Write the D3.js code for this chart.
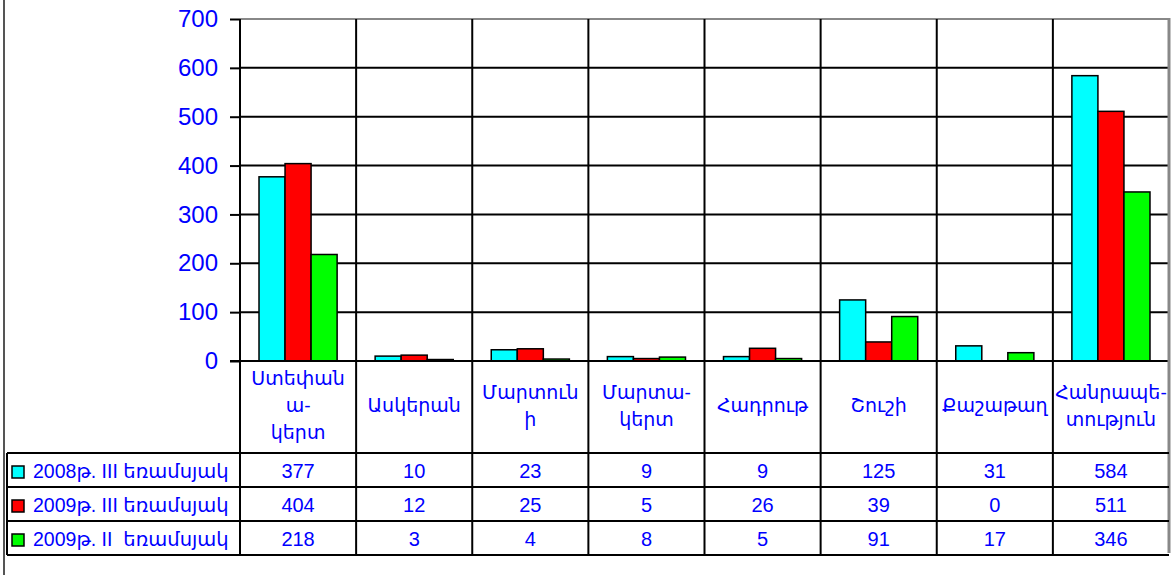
<!DOCTYPE html>
<html>
<head>
<meta charset="utf-8">
<script src="https://cdn.jsdelivr.net/npm/d3@7"></script>
<style>
  html, body { margin: 0; padding: 0; background: #fff; }
  svg { display: block; }
  text { font-family: "Liberation Sans", Arial, "DejaVu Sans", sans-serif; fill: #0000ff; }
</style>
</head>
<body>
<svg id="chart" width="1173" height="575"></svg>
<script>
// ---- data ----
const categories = ["Ստեփանակերտ", "Ասկերան", "Մարտունի", "Մարտակերտ", "Հադրութ", "Շուշի", "Քաշաթաղ", "Հանրապետություն"];
const categoryLabelLines = [
  ["Ստեփան", "ա-", "կերտ"],
  ["Ասկերան"],
  ["Մարտուն", "ի"],
  ["Մարտա-", "կերտ"],
  ["Հադրութ"],
  ["Շուշի"],
  ["Քաշաթաղ"],
  ["Հանրապե-", "տություն"]
];
const seriesNames = ["2008թ. III եռամսյակ", "2009թ. III եռամսյակ", "2009թ. II  եռամսյակ"];
const seriesColors = ["#00ffff", "#ff0000", "#00ff00"];
const values2008Q3 = [377, 10, 23, 9, 9, 125, 31, 584];
const values2009Q3 = [404, 12, 25, 5, 26, 39, 0, 511];
const values2009Q2 = [218, 3, 4, 8, 5, 91, 17, 346];
const yTicks = [0, 100, 200, 300, 400, 500, 600, 700];

const seriesValues = [values2008Q3, values2009Q3, values2009Q2];

// ---- layout ----
const svg = d3.select("#chart");
const plotL = 240, plotR = 1169, plotT = 19, plotB = 361;
const labelB = 453;
const rowH = 34;
const tableL = 7;
const tableB = labelB + rowH * 3;

const x = d3.scaleBand().domain(categories).range([plotL, plotR]).padding(0);
const xs = d3.scaleBand().domain(d3.range(seriesNames.length)).range([0, x.bandwidth()]).paddingInner(0).paddingOuter(0.73);
const y = d3.scaleLinear().domain([0, 700]).range([plotB, plotT]);

// outer frame line at left
svg.append("line").attr("x1", 4).attr("x2", 4).attr("y1", 0).attr("y2", 575)
  .attr("stroke", "#555").attr("stroke-width", 2);

// horizontal gridlines
svg.append("g").selectAll("line").data(yTicks.filter(d => d > 0 && d < 700)).join("line")
  .attr("x1", plotL).attr("x2", plotR)
  .attr("y1", d => y(d)).attr("y2", d => y(d))
  .attr("stroke", "#000").attr("stroke-width", 2);

// top border (gray)
svg.append("line").attr("x1", plotL).attr("x2", plotR).attr("y1", y(700)).attr("y2", y(700))
  .attr("stroke", "#888").attr("stroke-width", 2);

// bars
const groups = svg.append("g").selectAll("g").data(categories).join("g")
  .attr("transform", d => `translate(${x(d)},0)`);
groups.selectAll("rect").data((d, i) => seriesValues.map((s, k) => ({ k, v: s[i] }))).join("rect")
  .attr("x", d => xs(d.k))
  .attr("width", xs.bandwidth())
  .attr("y", d => y(d.v))
  .attr("height", d => y(0) - y(d.v))
  .attr("fill", d => seriesColors[d.k])
  .attr("stroke", "#000").attr("stroke-width", 1.5)
  .attr("display", d => d.v === 0 ? "none" : null);

// vertical category lines (through plot, labels and table)
const bounds = categories.map(c => x(c)).slice(1);
svg.append("g").selectAll("line").data(bounds).join("line")
  .attr("x1", d => d).attr("x2", d => d)
  .attr("y1", plotT).attr("y2", tableB)
  .attr("stroke", "#000").attr("stroke-width", 2);

// left axis line
svg.append("line").attr("x1", plotL).attr("x2", plotL).attr("y1", plotT).attr("y2", tableB)
  .attr("stroke", "#000").attr("stroke-width", 2);

// zero line
svg.append("line").attr("x1", plotL - 10).attr("x2", plotR).attr("y1", y(0)).attr("y2", y(0))
  .attr("stroke", "#000").attr("stroke-width", 2);

// right border (gray)
svg.append("line").attr("x1", plotR).attr("x2", plotR).attr("y1", plotT - 1).attr("y2", tableB - 2)
  .attr("stroke", "#888").attr("stroke-width", 3);

// y axis
const yAxis = d3.axisLeft(y).tickValues(yTicks).tickSize(10).tickPadding(12).tickFormat(d3.format("d"));
const ya = svg.append("g").attr("transform", `translate(${plotL},0)`).call(yAxis);
ya.select(".domain").remove();
ya.selectAll(".tick line").attr("stroke", "#000").attr("stroke-width", 2);
ya.selectAll(".tick text").attr("font-size", 24).attr("fill", "#0000ff")
  .attr("font-family", "'Liberation Sans', Arial, sans-serif");

// category labels
const lineH = 27, midBase = 412;
categoryLabelLines.forEach((lines, i) => {
  const cx = x(categories[i]) + x.bandwidth() / 2;
  const first = midBase - (lines.length - 1) * lineH / 2;
  const t = svg.append("text").attr("text-anchor", "middle").attr("font-size", 19);
  lines.forEach((ln, j) => {
    t.append("tspan").attr("x", cx).attr("y", first + j * lineH).text(ln);
  });
});

// table horizontal lines
svg.append("g").selectAll("line").data(d3.range(4)).join("line")
  .attr("x1", tableL).attr("x2", plotR)
  .attr("y1", d => labelB + d * rowH).attr("y2", d => labelB + d * rowH)
  .attr("stroke", "#000").attr("stroke-width", 2);
// table left border
svg.append("line").attr("x1", tableL).attr("x2", tableL).attr("y1", labelB).attr("y2", tableB)
  .attr("stroke", "#000").attr("stroke-width", 2);

// legend rows + values
seriesNames.forEach((name, k) => {
  const cy = labelB + k * rowH + rowH / 2 + 1;
  svg.append("rect").attr("x", 12).attr("y", cy - 5).attr("width", 12).attr("height", 12)
    .attr("fill", seriesColors[k]).attr("stroke", "#000").attr("stroke-width", 1.5);
  svg.append("text").attr("x", 33).attr("y", cy + 7).attr("font-size", 19.5)
    .attr("xml:space", "preserve").style("white-space", "pre").text(name);
  svg.append("g").selectAll("text").data(seriesValues[k]).join("text")
    .attr("x", (d, i) => x(categories[i]) + x.bandwidth() / 2)
    .attr("y", cy + 7)
    .attr("text-anchor", "middle").attr("font-size", 20)
    .text(d => d);
});
</script>
</body>
</html>
